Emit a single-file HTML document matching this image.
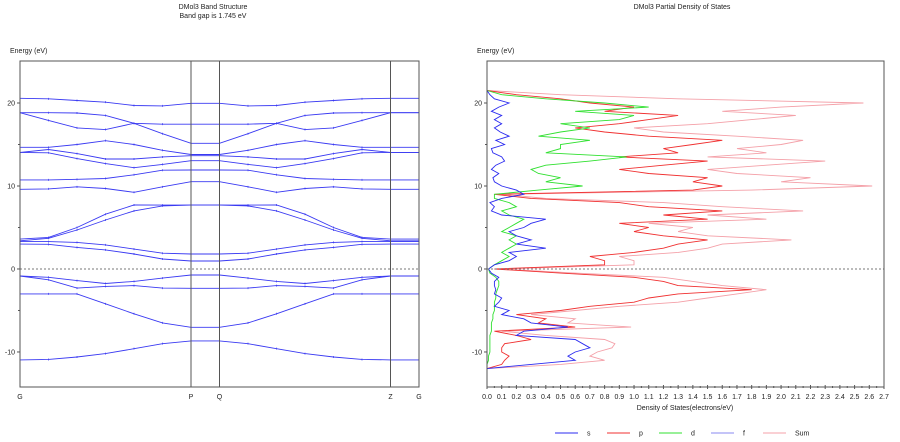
<!DOCTYPE html>
<html><head><meta charset="utf-8">
<style>
body{margin:0;background:#fff;font-family:"Liberation Sans",sans-serif;}
svg{display:block}
text{font-family:"Liberation Sans",sans-serif;font-size:7px;fill:#222}
</style></head><body>
<svg id="c" width="900" height="442" viewBox="0 0 900 442" xmlns="http://www.w3.org/2000/svg">
<text x="213" y="9" text-anchor="middle">DMol3 Band Structure</text>
<text x="213" y="18" text-anchor="middle">Band gap is 1.745 eV</text>
<text x="682" y="9" text-anchor="middle">DMol3 Partial Density of States</text>
<text x="10" y="53">Energy (eV)</text>
<text x="477" y="53">Energy (eV)</text>
<text x="685" y="410" text-anchor="middle">Density of States(electrons/eV)</text>
<g id="band"></g>
<g id="dos"></g>
<g id="legend"></g>
</svg>
<script>
// ---- band structure data ----
const kLabels = ["G","P","Q","Z","G"];
const kLabelIdx = [0,6,7,13,14];
const band1 = [20.56,20.5,20.3,20.1,19.7,19.65,19.96,19.96,19.65,19.7,20.1,20.3,20.5,20.56,20.56];
const band2 = [18.83,18.83,18.8,18.5,17.55,17.45,17.45,17.45,17.45,17.55,18.5,18.8,18.83,18.83,18.83];
const band3 = [18.83,17.9,17.0,16.8,17.55,16.3,15.14,15.14,16.3,17.55,16.8,17.0,17.9,18.83,18.83];
const band4 = [14.66,14.66,15.0,15.46,15.0,14.3,13.8,13.8,14.3,15.0,15.46,15.0,14.66,14.66,14.66];
const band5 = [14.05,14.4,13.9,13.25,13.25,13.5,13.65,13.65,13.5,13.25,13.25,13.9,14.4,14.05,14.05];
const band6 = [14.05,14.0,13.3,12.7,12.2,12.6,13.05,13.05,12.6,12.2,12.7,13.3,14.0,14.05,14.05];
const band7 = [10.73,10.73,10.8,10.9,11.35,11.9,11.93,11.93,11.9,11.35,10.9,10.8,10.73,10.73,10.73];
const band8 = [9.6,9.65,9.9,9.7,9.24,9.9,10.52,10.52,9.9,9.24,9.7,9.9,9.65,9.6,9.6];
const band9 = [3.6,3.8,5.0,6.6,7.71,7.7,7.7,7.7,7.7,7.71,6.6,5.0,3.8,3.6,3.6];
const band10 = [3.4,3.7,4.7,5.9,7.0,7.6,7.7,7.7,7.6,7.0,5.9,4.7,3.7,3.4,3.4];
const band11 = [3.3,3.3,3.2,2.9,2.4,1.9,1.8,1.8,1.9,2.4,2.9,3.2,3.3,3.3,3.3];
const band12 = [3.0,2.97,2.6,2.3,1.8,1.2,0.96,0.96,1.2,1.8,2.3,2.6,2.97,3.0,3.0];
const bandV1 = [-0.84,-1.0,-1.4,-1.75,-1.5,-1.1,-0.72,-0.72,-1.1,-1.5,-1.75,-1.4,-1.0,-0.84,-0.84];
const bandV2 = [-0.84,-1.3,-2.3,-2.1,-2.0,-2.3,-2.33,-2.33,-2.3,-2.0,-2.1,-2.3,-1.3,-0.84,-0.84];
const bandV3 = [-3.0,-3.0,-3.0,-4.2,-5.4,-6.5,-7.03,-7.03,-6.5,-5.4,-4.2,-3.0,-3.0,-3.0,-3.0];
const bandV4 = [-10.96,-10.9,-10.6,-10.2,-9.6,-9.0,-8.67,-8.67,-9.0,-9.6,-10.2,-10.6,-10.9,-10.96,-10.96];
const bands = [band1,band2,band3,band4,band5,band6,band7,band8,band9,band10,band11,band12,bandV1,bandV2,bandV3,bandV4];
const yTickLabels = [20,10,0,-10];
const yMinorTicks = [15,5,-5];

// ---- DOS data ----
const energies = [-12,-11.5,-11,-10.5,-10,-9.5,-9,-8.5,-8,-7.5,
-7,-6.5,-6,-5.5,-5,-4.5,-4,-3.5,-3,-2.5,
-2,-1.5,-1,-0.5,0,0.5,1,1.5,2,2.5,
3,3.5,4,4.5,5,5.5,6,6.5,7,7.5,
8,8.5,9,9.5,10,10.5,11,11.5,12,12.5,
13,13.5,14,14.5,15,15.5,16,16.5,17,17.5,
18,18.5,19,19.5,20,20.5,21,21.5];
const dosSum = [0,0.5,0.8,0.7,0.75,0.85,0.87,0.8,0.4,0.1,
0.98,0.55,0.6,0.3,0.6,0.9,1.3,1.5,1.7,1.9,
1.6,1.4,1.2,0.6,0.1,1.0,1.0,0.9,1.3,1.5,
1.6,2.07,1.5,1.3,1.4,1.1,1.9,1.5,2.15,1.6,
1.2,0.4,0.1,1.8,2.62,2.0,2.2,1.7,1.5,1.9,
2.3,1.5,1.9,1.7,2.0,2.15,1.7,1.2,1.0,1.5,
1.8,2.1,1.6,2.0,2.56,1.3,0.5,0];
const dosP = [0,0.1,0.12,0.15,0.1,0.1,0.12,0.3,0.2,0.05,
0.6,0.35,0.4,0.2,0.5,0.7,1.0,1.1,1.3,1.8,
1.3,1.2,1.0,0.5,0.05,0.8,0.8,0.7,1.0,1.2,
1.3,1.5,1.2,1.0,1.1,0.9,1.5,1.2,1.6,1.1,
0.9,0.3,0.05,1.4,1.6,1.4,1.5,1.1,0.9,1.2,
1.5,0.9,1.3,1.2,1.4,1.6,1.1,0.8,0.6,0.9,
1.1,1.3,0.8,1.0,0.7,0.5,0.2,0];
const dosS = [0,0.3,0.6,0.55,0.6,0.7,0.65,0.6,0.2,0.25,
0.55,0.3,0.25,0.1,0.15,0.05,0.08,0.1,0.05,0.06,
0.05,0.05,0.08,0.03,0.01,0.05,0.15,0.2,0.15,0.4,
0.2,0.3,0.2,0.15,0.25,0.3,0.4,0.1,0.03,0.05,
0.02,0.1,0.25,0.2,0.1,0.05,0.04,0.08,0.03,0.06,
0.12,0.1,0.04,0.03,0.12,0.06,0.15,0.09,0.05,0.1,
0.05,0.1,0.03,0.08,0.15,0.05,0.02,0];
const dosD = [0,0,0.01,0.01,0.02,0.02,0.02,0.02,0.02,0.03,
0.03,0.03,0.04,0.04,0.05,0.05,0.05,0.06,0.06,0.07,
0.08,0.08,0.06,0.02,0.01,0.05,0.1,0.15,0.1,0.15,
0.2,0.15,0.2,0.1,0.15,0.2,0.25,0.15,0.1,0.2,
0.15,0.05,0.05,0.35,0.65,0.4,0.5,0.35,0.3,0.4,
0.7,0.95,0.4,0.5,0.5,0.7,0.35,0.5,0.7,0.5,
0.9,1.0,0.6,1.1,0.8,0.4,0.1,0];
const dosF = [0,0,0,0,0,0,0,0,0,0,0,0,0,0,0,0,0,0,0,0,0,0,0,0,0,0,0,0,0,0,0,0,0,0,0,0,0,0,0,0,0,0,0,0,0,0,0,0,0,0,0,0,0,0,0,0,0,0,0,0,0,0,0,0,0,0,0,0];
const xTickLabels = ["0.0","0.1","0.2","0.3","0.4","0.5","0.6","0.7","0.8","0.9","1.0","1.1","1.2","1.3","1.4","1.5","1.6","1.7","1.8","1.9","2.0","2.1","2.2","2.3","2.4","2.5","2.6","2.7"];
const legendNames = ["s","p","d","f","Sum"];
const legendColors = ["#2b2bf0","#f03030","#30e030","#8a8af0","#f4a0a8"];

const NS="http://www.w3.org/2000/svg";
function mk(tag,attrs,parent){const e=document.createElementNS(NS,tag);for(const k in attrs)e.setAttribute(k,attrs[k]);parent.appendChild(e);return e;}
// shared energy axis
const yTop=61,yBot=387,eTop=25.06,eBot=-14.22;
const yE=e=>yTop+(eTop-e)/(eTop-eBot)*(yBot-yTop);

// ---- band plot ----
const bg=document.getElementById('band');
const bx0=20,bx1=419,nK=15;
const xK=i=>bx0+i*(bx1-bx0)/(nK-1);
bands.forEach((b,bi)=>{
  const pts=b.map((e,i)=>xK(i).toFixed(1)+','+yE(e).toFixed(1)).join(' ');
  const pl=mk('polyline',{points:pts,fill:'none',stroke:'#3a3af2','stroke-width':'0.9'},bg);
  
  
  b.forEach((e,i)=>{const t=mk('line',{x1:xK(i),x2:xK(i),y1:yE(e)-1,y2:yE(e)+1,stroke:'#3a3af2','stroke-width':'0.7'},bg);
  
  });
});
const fl=mk('line',{x1:bx0,x2:bx1,y1:yE(0),y2:yE(0),stroke:'#777','stroke-width':'1','stroke-dasharray':'2,2'},bg);


const bf=mk('rect',{x:bx0,y:yTop,width:bx1-bx0,height:yBot-yTop,fill:'none',stroke:'#555','stroke-width':'1'},bg);


kLabelIdx.forEach((ki,j)=>{
  if(ki>0&&ki<nK-1){const v=mk('line',{x1:xK(ki),x2:xK(ki),y1:yTop,y2:yBot,stroke:'#555','stroke-width':'1'},bg);
  
  }
  const t=mk('text',{x:xK(ki),y:399,'text-anchor':'middle'},bg);t.textContent=kLabels[j];
  
  
});
function yAxis(g,x0,prefix){
  yTickLabels.forEach(v=>{mk('line',{x1:x0-3,x2:x0,y1:yE(v),y2:yE(v),stroke:'#555'},g);
    const t=mk('text',{x:x0-5,y:yE(v)+2.5,'text-anchor':'end'},g);t.textContent=v;
    
    });
  yMinorTicks.forEach(v=>mk('line',{x1:x0-2,x2:x0,y1:yE(v),y2:yE(v),stroke:'#555'},g));
}
yAxis(bg,bx0,'band');

// ---- DOS plot ----
const dg=document.getElementById('dos');
const dx0=487,dx1=884,dMax=2.7;
const xD=v=>dx0+v/dMax*(dx1-dx0);
function dosLine(arr,color,name){
  const pts=arr.map((v,i)=>xD(v).toFixed(1)+','+yE(energies[i]).toFixed(1)).join(' ');
  const pl=mk('polyline',{points:pts,fill:'none',stroke:color,'stroke-width':'0.9'},dg);
  
  
}
dosLine(dosSum,legendColors[4],'dos-sum-line');
dosLine(dosP,legendColors[1],'dos-p-line');
dosLine(dosD,legendColors[2],'dos-d-line');
dosLine(dosS,legendColors[0],'dos-s-line');
dosLine(dosF,legendColors[3],'dos-f-line');
const df=mk('line',{x1:dx0,x2:dx1,y1:yE(0),y2:yE(0),stroke:'#777','stroke-width':'1','stroke-dasharray':'2,2'},dg);


const dfr=mk('rect',{x:dx0,y:yTop,width:dx1-dx0,height:yBot-yTop,fill:'none',stroke:'#555','stroke-width':'1'},dg);


yAxis(dg,dx0,'dos');
xTickLabels.forEach((l,i)=>{
  const v=parseFloat(l);
  mk('line',{x1:xD(v),x2:xD(v),y1:yBot-2,y2:yBot+2,stroke:'#555'},dg);
  if(i<xTickLabels.length-1) mk('line',{x1:xD(v+0.05),x2:xD(v+0.05),y1:yBot-1,y2:yBot+1,stroke:'#555'},dg);
  const t=mk('text',{x:xD(v),y:399,'text-anchor':'middle'},dg);t.textContent=l;
  
  
});

// ---- legend ----
const lg=document.getElementById('legend');
legendNames.forEach((n,i)=>{
  const x=555+i*52;
  const ln=mk('line',{x1:x,x2:x+23,y1:433,y2:433,stroke:legendColors[i],'stroke-width':'1'},lg);
  
  
  const t=mk('text',{x:x+32,y:435.5},lg);t.textContent=n;
  
  
});
</script>
</body></html>
